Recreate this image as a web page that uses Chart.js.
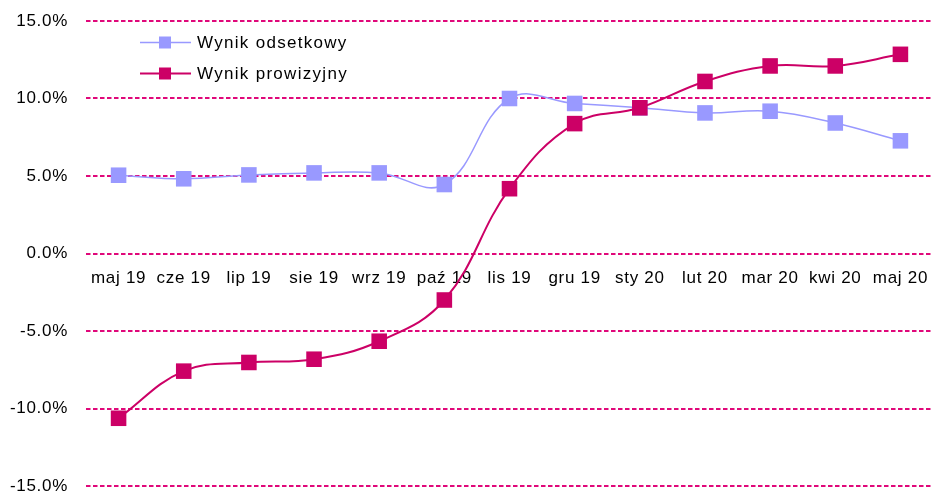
<!DOCTYPE html>
<html>
<head>
<meta charset="utf-8">
<script src="https://cdn.jsdelivr.net/npm/chart.js@4/dist/chart.umd.min.js"></script>
<style>
    html, body { margin: 0; padding: 0; background: #fff; }
    #wrap { width: 933px; height: 495px; position: relative; }
</style>
</head>
<body>
<div id="wrap"><canvas id="myChart"></canvas></div>
<script>
const categories = ['maj 19', 'cze 19', 'lip 19', 'sie 19', 'wrz 19', 'paź 19', 'lis 19',
    'gru 19', 'sty 20', 'lut 20', 'mar 20', 'kwi 20', 'maj 20'];
const wynikOdsetkowy = [5.05, 4.82, 5.07, 5.2, 5.2, 4.45, 10.0, 9.68, 9.4, 9.07, 9.18, 8.42, 7.27];
const wynikProwizyjny = [-10.63, -7.59, -7.03, -6.82, -5.66, -3.0, 4.18, 8.38, 9.4, 11.1, 12.1, 12.1, 12.85];
const yTicks = [-15, -10, -5, 0, 5, 10, 15];

const fontFamily = '"Liberation Sans", Arial, sans-serif';
const fontSize = 17;
const gridColor = '#e0087a';

// letter spacing, the reference text is a bit wide
const spacingPlugin = {
    id: 'spacing',
    beforeDraw(chart) {
        chart.ctx.letterSpacing = '0.7px';
    }
};

// legend inside the plot: short line + square, like the original
const insideLegend = {
    id: 'insideLegend',
    afterDraw(chart) {
        const ctx = chart.ctx;
        const rows = [42.5, 73.5];
        ctx.save();
        ctx.letterSpacing = '1.3px';
        chart.data.datasets.forEach((ds, i) => {
            const y = rows[i];
            ctx.strokeStyle = ds.borderColor;
            ctx.lineWidth = ds.borderWidth;
            ctx.beginPath();
            ctx.moveTo(140, y);
            ctx.lineTo(191, y);
            ctx.stroke();
            ctx.fillStyle = ds.pointBackgroundColor;
            ctx.fillRect(159, y - 6, 12, 12);
            ctx.fillStyle = '#000';
            ctx.font = fontSize + 'px ' + fontFamily;
            ctx.textBaseline = 'middle';
            ctx.textAlign = 'left';
            ctx.fillText(ds.label, 197, y + 1);
        });
        ctx.restore();
    }
};

const chartData = {
    labels: categories,
    datasets: [{
        label: 'Wynik odsetkowy',
        data: wynikOdsetkowy,
        borderColor: '#9999ff',
        backgroundColor: '#9999ff',
        pointBackgroundColor: '#9999ff',
        borderWidth: 1.5,
        pointStyle: 'rect',
        pointRadius: 11,
        pointBorderWidth: 0,
        tension: 0.4,
        order: 1
    }, {
        label: 'Wynik prowizyjny',
        data: wynikProwizyjny,
        borderColor: '#cc0066',
        backgroundColor: '#cc0066',
        pointBackgroundColor: '#cc0066',
        borderWidth: 2,
        pointStyle: 'rect',
        pointRadius: 11,
        pointBorderWidth: 0,
        tension: 0.4,
        order: 0
    }]
};

const config = {
    type: 'line',
    data: chartData,
    options: {
        responsive: true,
        maintainAspectRatio: false,
        animation: false,
        layout: {
            autoPadding: false,
            padding: {top: 21, right: 0, bottom: 9, left: 10}
        },
        scales: {
            x: {
                position: {y: 0},
                offset: true,
                afterFit: scale => {
                    scale.height = 0;
                    scale.paddingLeft = 0;
                    scale.paddingRight = 0;
                    scale.paddingTop = 0;
                    scale.paddingBottom = 0;
                },
                grid: {display: false, drawTicks: false},
                border: {display: false},
                ticks: {
                    color: '#000',
                    padding: 15,
                    maxRotation: 0,
                    autoSkip: false,
                    font: {size: fontSize, family: fontFamily}
                }
            },
            y: {
                min: yTicks[0],
                max: yTicks[yTicks.length - 1],
                afterFit: scale => {
                    scale.width = 76;
                    scale.paddingTop = 0;
                    scale.paddingBottom = 0;
                },
                afterBuildTicks: scale => {
                    scale.ticks = yTicks.map(v => ({value: v}));
                },
                grid: {
                    color: gridColor,
                    lineWidth: 2,
                    drawTicks: false
                },
                border: {display: false, dash: [4.5, 2.5]},
                ticks: {
                    color: '#000',
                    padding: 18,
                    font: {size: fontSize, family: fontFamily},
                    callback: v => v.toFixed(1) + '%'
                }
            }
        },
        plugins: {
            legend: {display: false},
            tooltip: {enabled: false}
        }
    },
    plugins: [spacingPlugin, insideLegend]
};

const chart = new Chart(document.getElementById('myChart'), config);
</script>
</body>
</html>
